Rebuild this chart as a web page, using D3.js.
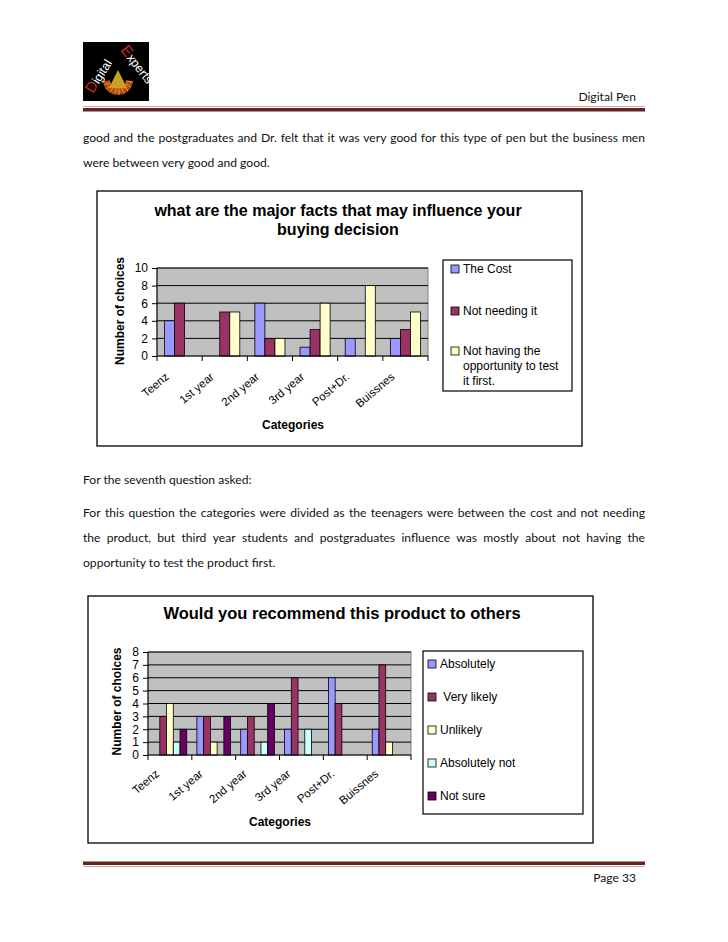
<!DOCTYPE html>
<html><head><meta charset="utf-8">
<script src="https://cdn.jsdelivr.net/npm/d3@7"></script>
<style>body{margin:0;background:#fff}svg{display:block}</style>
</head><body>
<svg id="page" width="728" height="942"></svg>
<script>
// ---------- data ----------
const categories = ["Teenz", "1st year", "2nd year", "3rd year", "Post+Dr.", "Buissnes"];

// Chart 1: what are the major facts that may influence your buying decision
const c1Names = ["The Cost", "Not needing it", "Not having the opportunity to test it first."];
const c1Cost = [4, 0, 6, 1, 2, 2];
const c1NotNeeding = [6, 5, 2, 3, 0, 3];
const c1NotTesting = [0, 5, 2, 6, 8, 5];
const c1Ticks = [0, 2, 4, 6, 8, 10];

// Chart 2: Would you recommend this product to others
const c2Names = ["Absolutely", " Very likely", "Unlikely", "Absolutely not", "Not sure"];
const c2Absolutely = [0, 3, 2, 2, 6, 2];
const c2VeryLikely = [3, 3, 3, 6, 4, 7];
const c2Unlikely = [4, 1, 0, 0, 0, 1];
const c2AbsolutelyNot = [1, 0, 1, 2, 0, 0];
const c2NotSure = [2, 3, 4, 0, 0, 0];
const c2Ticks = [0, 1, 2, 3, 4, 5, 6, 7, 8];

// ---------- page ----------
const svg = d3.select("#page");
const bodyFont = "Lato, 'Open Sans', sans-serif";
const chartFont = "'Liberation Sans', Arial, sans-serif";

// logo
const logo = svg.append("g");
logo.append("rect").attr("x", 83).attr("y", 42).attr("width", 66).attr("height", 59).attr("fill", "#000");
const rays = logo.append("g").attr("transform", "translate(118,84)");
d3.range(18).forEach(i => {
  const a = Math.PI * (0.05 + i / 17 * 0.9);
  rays.append("line")
    .attr("x1", Math.cos(a) * 8).attr("y1", Math.sin(a) * 8 - 4)
    .attr("x2", Math.cos(a) * 15).attr("y2", Math.sin(a) * 15 - 4)
    .attr("stroke", i % 2 ? "#c0501a" : "#e07a20").attr("stroke-width", 2);
});
rays.append("path").attr("d", "M0,-14 L9,4 L-9,4 Z").attr("fill", "#c9a020");
logo.append("text").attr("transform", "translate(93,94) rotate(-58)")
  .attr("font-family", chartFont).attr("font-size", 12.5).attr("fill", "#fff")
  .html('<tspan fill="#d42a2a" font-size="15">D</tspan>igital');
logo.append("text").attr("transform", "translate(120,50) rotate(52)")
  .attr("font-family", chartFont).attr("font-size", 12.5).attr("fill", "#fff")
  .html('<tspan fill="#d42a2a" font-size="15">E</tspan>xperts');

// body text sizing: calibrate so that a reference line has its measured width
const probe = svg.append("text").attr("font-family", bodyFont).attr("font-size", 12).text("were between very good and good.");
const bodySize = 12 * 187 / probe.node().getComputedTextLength();
probe.remove();

function bodyLine(t, x, y, w, justify, anchor) {
  const txt = svg.append("text").attr("y", y).attr("font-family", bodyFont)
    .attr("font-size", bodySize).attr("fill", "#111");
  if (!justify) {
    txt.attr("x", x).attr("text-anchor", anchor || "start").text(t);
    return;
  }
  const words = t.split(" ");
  const widths = words.map(wd => {
    const p = svg.append("text").attr("font-family", bodyFont).attr("font-size", bodySize).text(wd);
    const l = p.node().getComputedTextLength(); p.remove(); return l;
  });
  const gap = (w - d3.sum(widths)) / (words.length - 1);
  let cx = x;
  words.forEach((wd, i) => {
    txt.append("tspan").attr("x", cx).text(wd + (i < words.length - 1 ? " " : ""));
    cx += widths[i] + gap;
  });
}

// header
bodyLine("Digital Pen", 636, 101, 0, false, "end");
svg.append("rect").attr("x", 83).attr("y", 106).attr("width", 562).attr("height", 1).attr("fill", "#d8a8a0");
svg.append("rect").attr("x", 83).attr("y", 108).attr("width", 562).attr("height", 3.5).attr("fill", "#632523");

// footer
svg.append("rect").attr("x", 83).attr("y", 861.5).attr("width", 562).attr("height", 3.5).attr("fill", "#632523");
svg.append("rect").attr("x", 83).attr("y", 866).attr("width", 562).attr("height", 1).attr("fill", "#d8a8a0");
bodyLine("Page 33", 636, 882, 0, false, "end");

// body text
bodyLine("good and the postgraduates and Dr. felt that it was very good for this type of pen but the business men", 83, 142, 562, true);
bodyLine("were between very good and good.", 83, 167, 0, false);
bodyLine("For the seventh question asked:", 83, 484, 0, false);
bodyLine("For this question the categories were divided as the teenagers were between the cost and not needing", 83, 517, 562, true);
bodyLine("the product, but third year students and postgraduates influence was mostly about not having the", 83, 542, 562, true);
bodyLine("opportunity to test the product first.", 83, 567, 0, false);

// ---------- chart drawing ----------
function drawChart(o) {
  const g = svg.append("g");
  g.append("rect").attr("x", o.box[0]).attr("y", o.box[1]).attr("width", o.box[2] - o.box[0])
    .attr("height", o.box[3] - o.box[1]).attr("fill", "#fff").attr("stroke", "#000").attr("stroke-width", 1.3);

  o.title.forEach((t, i) => {
    g.append("text").attr("x", o.titleX).attr("y", o.titleY + i * 19).attr("text-anchor", "middle")
      .attr("font-family", chartFont).attr("font-weight", "bold").attr("font-size", o.titleSize).text(t);
  });

  const [L, T, R, B] = o.plot;
  const x = d3.scaleBand().domain(categories).range([L, R]).paddingInner(0).paddingOuter(0);
  const xs = d3.scaleBand().domain(d3.range(o.series.length)).range([0, x.bandwidth()]).paddingInner(0).paddingOuter(0.75);
  const y = d3.scaleLinear().domain([0, d3.max(o.ticks)]).range([B, T]);

  g.append("rect").attr("x", L).attr("y", T).attr("width", R - L).attr("height", B - T)
    .attr("fill", "#c0c0c0").attr("stroke", "#808080").attr("stroke-width", 1);

  g.selectAll(".grid").data(o.ticks.filter(v => v > 0)).join("line")
    .attr("x1", L).attr("x2", R).attr("y1", d => y(d)).attr("y2", d => y(d))
    .attr("stroke", "#000").attr("stroke-width", 1);

  o.series.forEach((vals, si) => {
    g.selectAll(null).data(vals.map((v, i) => ({v, c: categories[i]})).filter(d => d.v > 0)).join("rect")
      .attr("x", d => x(d.c) + xs(si)).attr("width", xs.bandwidth())
      .attr("y", d => y(d.v)).attr("height", d => B - y(d.v))
      .attr("fill", o.colors[si]).attr("stroke", "#000").attr("stroke-width", 0.8);
  });

  const ya = g.append("g").attr("transform", `translate(${L},0)`)
    .call(d3.axisLeft(y).tickValues(o.ticks).tickSize(5).tickPadding(4).tickFormat(d3.format("d")));
  ya.select(".domain").attr("stroke", "#000").attr("d", `M0,${T}V${B}`);
  ya.selectAll("text").attr("font-family", chartFont).attr("font-size", 12).attr("fill", "#000");
  ya.selectAll("line").attr("stroke", "#000");

  g.append("line").attr("x1", L).attr("x2", R).attr("y1", B).attr("y2", B).attr("stroke", "#000");
  const bounds = categories.map(c => x(c)).concat([x(categories[categories.length - 1]) + x.bandwidth()]);
  g.selectAll(null).data(bounds).join("line")
    .attr("x1", d => d).attr("x2", d => d).attr("y1", B).attr("y2", B + 5).attr("stroke", "#000");
  g.selectAll(null).data(categories).join("text")
    .attr("transform", d => `translate(${x(d) + x.bandwidth() / 2 + o.labDx},${B + o.labDy}) rotate(${o.labRot})`)
    .attr("text-anchor", "end").attr("font-family", chartFont).attr("font-size", 11.5).text(d => d);

  g.append("text").attr("x", o.catX).attr("y", o.catY).attr("text-anchor", "middle")
    .attr("font-family", chartFont).attr("font-weight", "bold").attr("font-size", 12).text("Categories");
  g.append("text").attr("transform", `translate(${o.ylabX},${(T + B) / 2 + o.ylabDy}) rotate(-90)`)
    .attr("text-anchor", "middle").attr("font-family", chartFont).attr("font-weight", "bold")
    .attr("font-size", 12).text("Number of choices");

  const lg = o.legend;
  g.append("rect").attr("x", lg.box[0]).attr("y", lg.box[1]).attr("width", lg.box[2] - lg.box[0])
    .attr("height", lg.box[3] - lg.box[1]).attr("fill", "#fff").attr("stroke", "#000").attr("stroke-width", 1.2);
  lg.items.forEach((it, i) => {
    g.append("rect").attr("x", lg.sqX).attr("y", it.y - 4).attr("width", 8).attr("height", 8)
      .attr("fill", o.colors[i]).attr("stroke", "#000").attr("stroke-width", 0.8);
    it.lines.forEach((ln, k) => {
      g.append("text").attr("x", lg.sqX + 12).attr("y", it.y + 4 + k * 15).attr("font-family", chartFont)
        .attr("font-size", 12).style("white-space", "pre").text(ln);
    });
  });
}

drawChart({
  box: [97, 191, 582, 446],
  title: ["what are the major facts that may influence your", "buying decision"],
  titleX: 338, titleY: 216, titleSize: 16,
  plot: [157, 268, 428, 356],
  ticks: c1Ticks,
  series: [c1Cost, c1NotNeeding, c1NotTesting],
  colors: ["#9999ff", "#993366", "#ffffcc"],
  labDx: -10, labDy: 22, labRot: -40,
  catX: 293, catY: 429,
  ylabX: 124, ylabDy: -1,
  legend: {
    box: [443, 260, 572, 391], sqX: 451,
    items: [
      {y: 269, lines: [c1Names[0]]},
      {y: 311, lines: [c1Names[1]]},
      {y: 351, lines: ["Not having the", "opportunity to test", "it first."]}
    ]
  }
});

drawChart({
  box: [88, 596, 593, 843],
  title: ["Would you recommend this product to others"],
  titleX: 342, titleY: 619, titleSize: 16.5,
  plot: [148, 652, 411, 755],
  ticks: c2Ticks,
  series: [c2Absolutely, c2VeryLikely, c2Unlikely, c2AbsolutelyNot, c2NotSure],
  colors: ["#9999ff", "#993366", "#ffffcc", "#ccffff", "#660066"],
  labDx: -10, labDy: 20, labRot: -40,
  catX: 280, catY: 826,
  ylabX: 121, ylabDy: -2,
  legend: {
    box: [423, 651, 583, 814], sqX: 428,
    items: c2Names.map((n, i) => ({y: 664 + i * 33, lines: [n]}))
  }
});
</script>
</body></html>
